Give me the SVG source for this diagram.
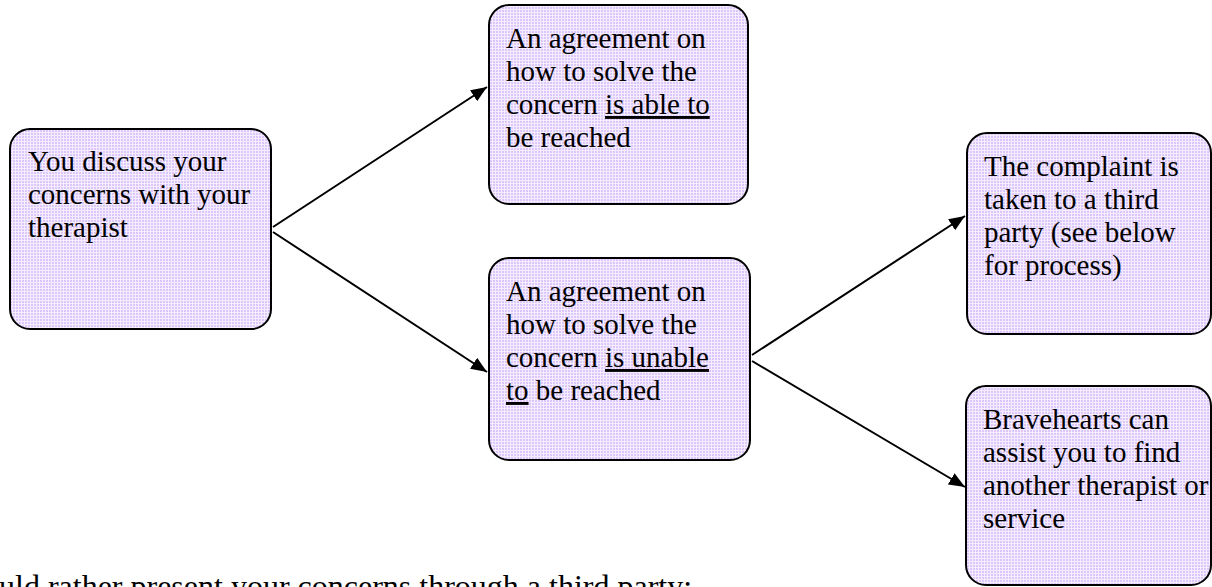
<svg xmlns="http://www.w3.org/2000/svg" width="1212" height="587" viewBox="0 0 1212 587">
<defs>
<pattern id="grid" width="3" height="3" patternUnits="userSpaceOnUse">
<rect width="3" height="3" fill="#DCC6FA"/>
<rect x="0" y="0" width="3" height="1" fill="#F4ECFF"/>
<rect x="0" y="0" width="1" height="3" fill="#F4ECFF"/>
</pattern>
<marker id="arr" viewBox="0 0 16 13" refX="16" refY="6.5" markerWidth="16" markerHeight="13" markerUnits="userSpaceOnUse" orient="auto">
<path d="M0,0 L16,6.5 L0,13 Z" fill="#000"/>
</marker>
</defs>
<style>
.box{fill:url(#grid);stroke:#000;stroke-width:2}
.t{font-family:"Liberation Serif","Times New Roman",serif;font-size:29px;fill:#000}
.u{text-decoration:underline}
.c{stroke:#000;stroke-width:2;fill:none;marker-end:url(#arr)}
</style>
<rect width="1212" height="587" fill="#fff"/>
<g id="connectors">
<line class="c" x1="273" y1="227" x2="487" y2="87"/>
<line class="c" x1="273" y1="232" x2="487" y2="372"/>
<line class="c" x1="752" y1="355" x2="965" y2="216"/>
<line class="c" x1="752" y1="361" x2="965" y2="487"/>
</g>
<g id="n1">
<rect class="box" x="10" y="129" width="261" height="200" rx="20"/>
<text class="t" x="28" y="171">You discuss your</text>
<text class="t" x="28" y="204">concerns with your</text>
<text class="t" x="28" y="237">therapist</text>
</g>
<g id="n2">
<rect class="box" x="489" y="5" width="259" height="199" rx="20"/>
<text class="t" x="506" y="48">An agreement on</text>
<text class="t" x="506" y="81">how to solve the</text>
<text class="t" x="506" y="114">concern <tspan class="u">is able to</tspan></text>
<text class="t" x="506" y="147">be reached</text>
</g>
<g id="n3">
<rect class="box" x="489" y="258" width="261" height="202" rx="20"/>
<text class="t" x="506" y="301">An agreement on</text>
<text class="t" x="506" y="334">how to solve the</text>
<text class="t" x="506" y="367">concern <tspan class="u">is unable</tspan></text>
<text class="t" x="506" y="400"><tspan class="u">to</tspan> be reached</text>
</g>
<g id="n4">
<rect class="box" x="967" y="133" width="244" height="201" rx="20"/>
<text class="t" x="984" y="176">The complaint is</text>
<text class="t" x="984" y="209">taken to a third</text>
<text class="t" x="984" y="242">party (see below</text>
<text class="t" x="984" y="275">for process)</text>
</g>
<g id="n5">
<rect class="box" x="966" y="386" width="245" height="199" rx="20"/>
<text class="t" x="983" y="429">Bravehearts can</text>
<text class="t" x="983" y="462">assist you to find</text>
<text class="t" x="983" y="495">another therapist or</text>
<text class="t" x="983" y="528">service</text>
</g>
<text x="-1" y="597" style="font-family:'Liberation Serif','Times New Roman',serif;font-size:32px;fill:#000">uld rather present your concerns through a third party:</text>
</svg>
